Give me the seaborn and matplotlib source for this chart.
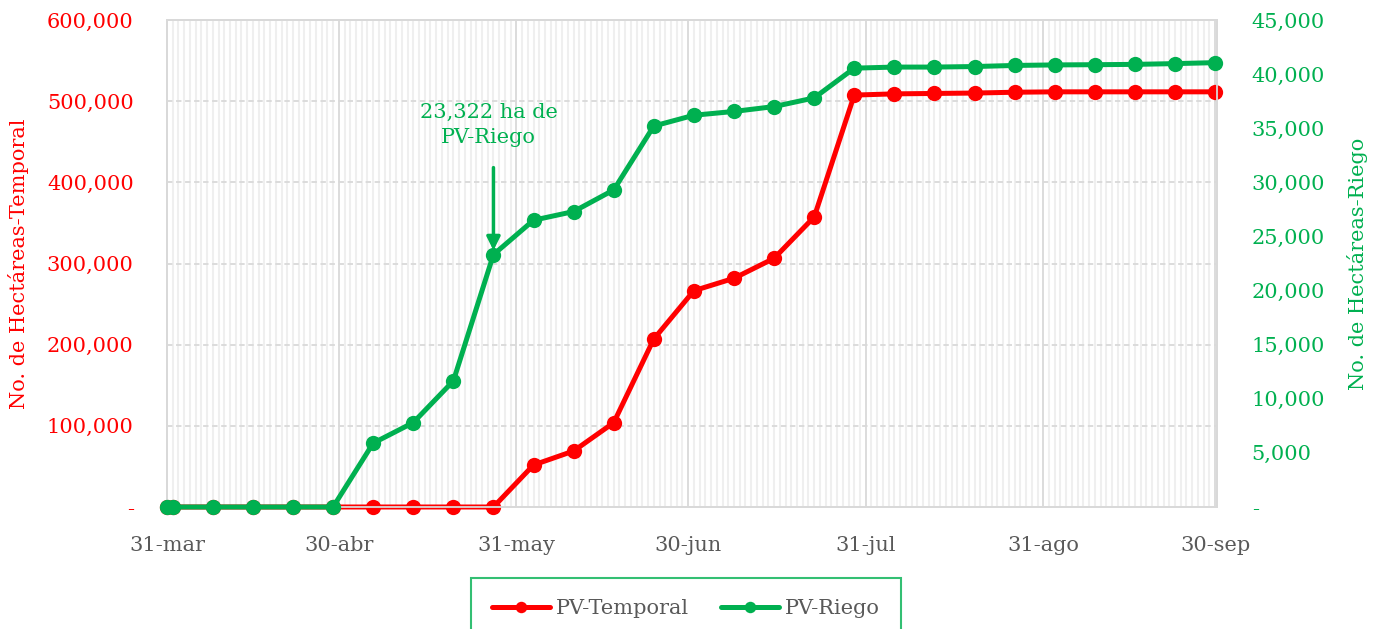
import pandas as pd
import matplotlib.pyplot as plt
import matplotlib.dates as mdates
import matplotlib.ticker as mticker
import seaborn as sns

# %% data
fechas = ['2023-03-31', '2023-04-01', '2023-04-08', '2023-04-15', '2023-04-22', '2023-04-29',
          '2023-05-06', '2023-05-13', '2023-05-20', '2023-05-27', '2023-06-03', '2023-06-10',
          '2023-06-17', '2023-06-24', '2023-07-01', '2023-07-08', '2023-07-15', '2023-07-22',
          '2023-07-29', '2023-08-05', '2023-08-12', '2023-08-19', '2023-08-26', '2023-09-02',
          '2023-09-09', '2023-09-16', '2023-09-23', '2023-09-30']

pv_temporal = [0, 0, 0, 0, 0, 0, 0, 0, 0, 0,
               51750, 69000, 103900, 207000, 266500, 281800, 306400, 357300,
               507500, 509000, 509500, 510000, 511000, 511500, 511500, 511500, 511500, 511500]

pv_riego = [0, 0, 0, 0, 0, 0,
            5900, 7800, 11650, 23322, 26500, 27300, 29300, 35200, 36200, 36550, 37000, 37800,
            40550, 40650, 40650, 40700, 40800, 40850, 40870, 40900, 40970, 41060]

meses = {3: 'mar', 4: 'abr', 5: 'may', 6: 'jun', 7: 'jul', 8: 'ago', 9: 'sep'}

df = pd.DataFrame({'fecha': pd.to_datetime(fechas),
                   'PV-Temporal': pv_temporal,
                   'PV-Riego': pv_riego})

rojo = '#FF0000'
verde = '#00B050'
gris = '#595959'

# %% plot
sns.set_style('white')
plt.rcParams['font.family'] = ['DejaVu Serif', 'DejaVu Sans']
plt.rcParams['font.size'] = 15

fig = plt.figure(figsize=(13.76, 6.29), dpi=100)
ax = fig.add_axes([167 / 1376, 1 - 507 / 629, 1050 / 1376, 487 / 629])
ax2 = ax.twinx()

sns.lineplot(data=df, x='fecha', y='PV-Temporal', ax=ax, color=rojo, lw=3.6,
             marker='o', markersize=11, markeredgewidth=0, label='PV-Temporal',
             legend=False, clip_on=False, zorder=3)
sns.lineplot(data=df, x='fecha', y='PV-Riego', ax=ax2, color=verde, lw=3.6,
             marker='o', markersize=11, markeredgewidth=0, label='PV-Riego',
             legend=False, clip_on=False, zorder=3)

ax.set_xlim(pd.Timestamp('2023-03-31'), pd.Timestamp('2023-09-30') + pd.Timedelta(hours=8))
ax.set_ylim(0, 600000)
ax2.set_ylim(0, 45000)

ax.xaxis.set_major_locator(mdates.MonthLocator(bymonthday=-1))
ax.xaxis.set_minor_locator(mdates.DayLocator())
ax.xaxis.set_major_formatter(mticker.FuncFormatter(
    lambda v, p: f"{mdates.num2date(v).day}-{meses[mdates.num2date(v).month]}"))

ax.yaxis.set_major_locator(mticker.MultipleLocator(100000))
ax2.yaxis.set_major_locator(mticker.MultipleLocator(5000))
fmt = mticker.FuncFormatter(lambda v, p: '-' if v == 0 else f"{v:,.0f}")
ax.yaxis.set_major_formatter(fmt)
ax2.yaxis.set_major_formatter(fmt)

ax.grid(which='minor', axis='x', color='#efefef', lw=1.5)
ax.grid(which='major', axis='x', color='#d9d9d9', lw=1.3)
ax.grid(which='major', axis='y', color='#d9d9d9', lw=1.3, ls=(0, (3, 2)))
ax.set_axisbelow(True)

ax.tick_params(axis='x', which='major', length=6, width=1.3, color='#d9d9d9',
               labelcolor=gris, labelsize=15, pad=15)
ax.tick_params(axis='x', which='minor', length=0)
ax.tick_params(axis='y', length=0, labelcolor=rojo, labelsize=15, pad=24)
ax2.tick_params(axis='y', length=0, labelcolor=verde, labelsize=15, pad=25)

for a in (ax, ax2):
    for s in a.spines.values():
        s.set_color('#d9d9d9')
        s.set_linewidth(1.3)

ax.set_xlabel('')
ax.set_ylabel('No. de Hectáreas-Temporal', color=rojo, fontsize=15)
ax.yaxis.set_label_coords(-0.131, 0.5)
ax2.set_ylabel('No. de Hectáreas-Riego', color=verde, fontsize=15)
ax2.yaxis.set_label_coords(1.124, 0.5)

# annotation on the 23,322 ha point
punto = (df['fecha'][9], pv_riego[9])
ax2.annotate('', xy=punto, xytext=(0, 87), textcoords='offset pixels',
             arrowprops=dict(arrowstyle='-|>', color=verde, lw=2.5,
                             mutation_scale=20, shrinkA=0, shrinkB=3))
ax2.annotate('23,322 ha de\nPV-Riego', xy=punto, xytext=(-5, 108),
             textcoords='offset pixels', ha='center', va='bottom',
             color=verde, fontsize=15, linespacing=1.4)

h1, l1 = ax.get_legend_handles_labels()
h2, l2 = ax2.get_legend_handles_labels()
leg = fig.legend(h1 + h2, l1 + l2, loc='upper center', bbox_to_anchor=(0.4985, 1 - 578 / 629),
                 ncol=2, frameon=True, fancybox=False, edgecolor=verde, fontsize=15,
                 labelcolor=gris, handlelength=2.8, handletextpad=0.3, columnspacing=1.5,
                 borderpad=1.0, borderaxespad=0, markerscale=0.75)
leg.get_frame().set_linewidth(1.5)

plt.savefig('out.png', dpi=100)
